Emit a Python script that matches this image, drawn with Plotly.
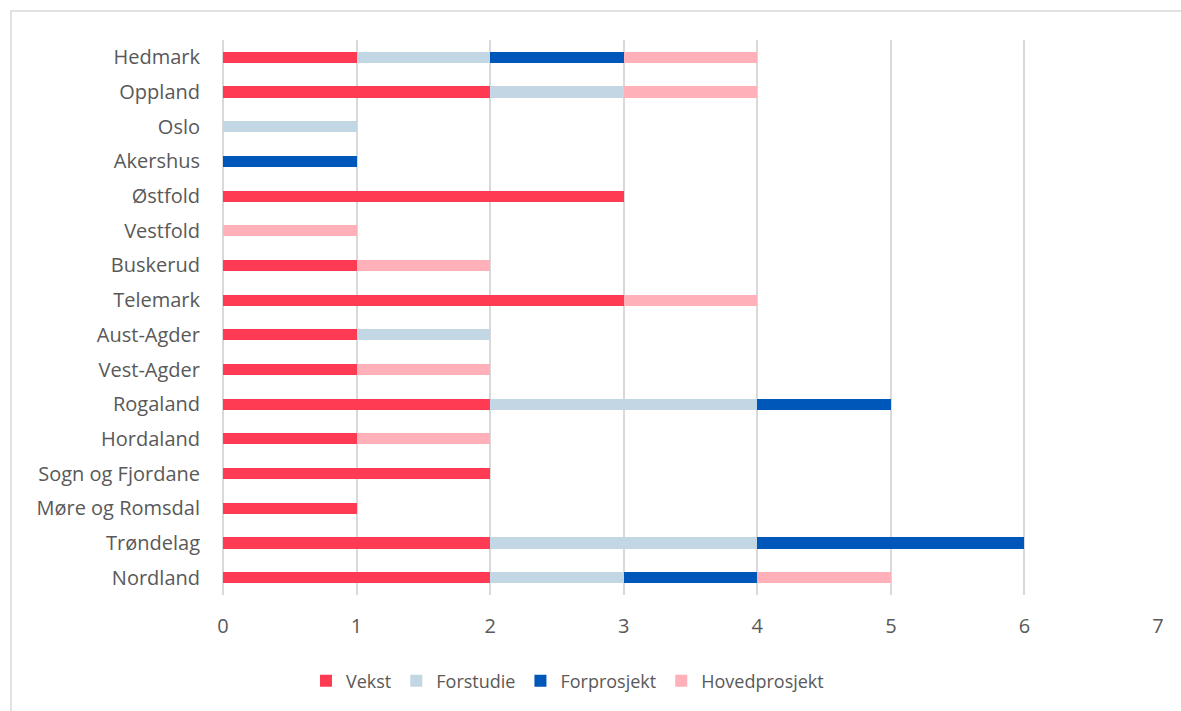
import plotly.graph_objects as go

categories = ["Hedmark", "Oppland", "Oslo", "Akershus", "Østfold", "Vestfold", "Buskerud",
              "Telemark", "Aust-Agder", "Vest-Agder", "Rogaland", "Hordaland",
              "Sogn og Fjordane", "Møre og Romsdal", "Trøndelag", "Nordland"]
vekst =         [1, 2, 0, 0, 3, 0, 1, 3, 1, 1, 2, 1, 2, 1, 2, 2]
forstudie =     [1, 1, 1, 0, 0, 0, 0, 0, 1, 0, 2, 0, 0, 0, 2, 1]
forprosjekt =   [1, 0, 0, 1, 0, 0, 0, 0, 0, 0, 1, 0, 0, 0, 2, 1]
hovedprosjekt = [1, 1, 0, 0, 0, 1, 1, 1, 0, 1, 0, 1, 0, 0, 0, 1]

series = [
    ("Vekst", vekst, "#FF3B53"),
    ("Forstudie", forstudie, "#C2D7E3"),
    ("Forprosjekt", forprosjekt, "#0057BA"),
    ("Hovedprosjekt", hovedprosjekt, "#FFB0B9"),
]

fig = go.Figure()
for name, vals, color in series:
    fig.add_trace(go.Bar(
        y=categories, x=vals, name=name, orientation="h",
        marker=dict(color=color, line=dict(width=0)),
    ))

font_color = "#595959"
fig.update_layout(
    barmode="stack",
    bargap=0.68,
    width=1181, height=711,
    margin=dict(l=223, r=23, t=40, b=116),
    paper_bgcolor="white", plot_bgcolor="white",
    font=dict(family="Open Sans", size=20, color=font_color),
    legend=dict(orientation="h", xref="container", yref="container",
                x=0.4805, xanchor="center", y=1 - 681 / 711, yanchor="middle",
                font=dict(size=18, color=font_color), traceorder="normal",
                itemwidth=30),
    xaxis=dict(range=[0, 7], dtick=1, showgrid=True, gridcolor="#D9D9D9", gridwidth=1.5,
               zeroline=True, zerolinecolor="#D9D9D9", zerolinewidth=1.5,
               showline=False, ticks="", ticklabelstandoff=17,
               tickfont=dict(size=20, color=font_color)),
    yaxis=dict(categoryorder="array", categoryarray=categories, autorange="reversed",
               showgrid=False, ticks="", ticklabelstandoff=22,
               tickfont=dict(size=20, color=font_color)),
    shapes=[dict(type="rect", xref="paper", yref="paper",
                 x0=(11 - 223) / 935, x1=(1300 - 223) / 935,
                 y0=(595 - 800) / 555, y1=(595 - 11) / 555,
                 line=dict(color="#D9D9D9", width=1.5), fillcolor="rgba(0,0,0,0)", layer="below")],
)

fig.write_html("out.html", config={"displayModeBar": False},
               post_script="document.body.style.margin='0';document.body.style.overflow='hidden';")
